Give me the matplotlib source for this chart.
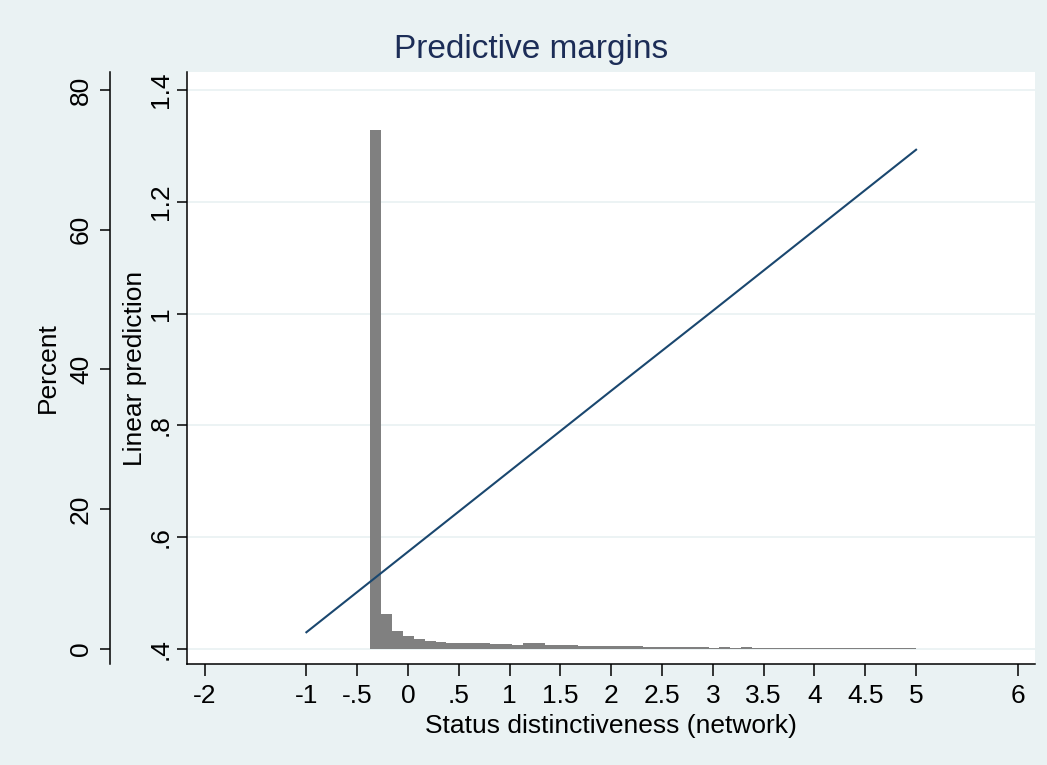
import numpy as np
import matplotlib.pyplot as plt
from matplotlib.lines import Line2D
from matplotlib.transforms import blended_transform_factory

plt.rcParams['font.family'] = ['Liberation Sans', 'DejaVu Sans']

# histogram of status distinctiveness (percent per bin)
bin_lo = -0.374
bin_hi = 5.0
pct = [74.3, 5.0, 2.6, 1.9, 1.43, 1.14, 0.96, 0.86, 0.86, 0.86,
       0.86, 0.72, 0.72, 0.62, 0.86, 0.86, 0.57, 0.57, 0.52, 0.43,
       0.43, 0.40, 0.40, 0.40, 0.36, 0.24, 0.24, 0.24, 0.24, 0.24,
       0.24, 0.12, 0.30, 0.12, 0.30, 0.14, 0.14, 0.14, 0.14, 0.14,
       0.14, 0.14, 0.14, 0.14, 0.14, 0.14, 0.14, 0.14, 0.14, 0.14]

# predictive margins (linear prediction)
mx = [-1, 0, 1, 2, 3, 4, 5]
my = [0.430, 0.574, 0.718, 0.862, 1.005, 1.149, 1.293]

xticks = [-2, -1, -0.5, 0, 0.5, 1, 1.5, 2, 2.5, 3, 3.5, 4, 4.5, 5, 6]
xlabels = ['-2', '-1', '-.5', '0', '.5', '1', '1.5', '2', '2.5', '3',
           '3.5', '4', '4.5', '5', '6']
pticks = [0, 20, 40, 60, 80]
lticks = [0.4, 0.6, 0.8, 1.0, 1.2, 1.4]
llabels = ['.4', '.6', '.8', '1', '1.2', '1.4']

bg = '#eaf2f3'
fig = plt.figure(figsize=(10.47, 7.65), dpi=100, facecolor=bg)
ax = fig.add_axes([0.1786, 0.132, 0.81, 0.774])
ax.set_facecolor('white')
ax2 = ax.twinx()
ax2.patch.set_visible(False)

# percent axis (outer)
edges = np.linspace(bin_lo, bin_hi, len(pct) + 1)
ax.stairs(pct, edges, fill=True, color='#808080', zorder=2)
ax.set_xlim(-2.175, 6.171)
ax.set_ylim(-2.147, 82.58)
ax.set_yticks(pticks)
ax.set_yticklabels([str(t) for t in pticks])
ax.set_ylabel('Percent', fontsize=19, labelpad=7)
ax.spines['left'].set_position(('outward', 55.4))
ax.spines['top'].set_visible(False)
ax.spines['right'].set_visible(False)
ax.set_xticks(xticks)
ax.set_xticklabels(xlabels)
ax.set_xlabel('Status distinctiveness (network)', fontsize=19, labelpad=4)
ax.tick_params(axis='x', labelsize=19, length=8.6, width=1.1, pad=6)
ax.tick_params(axis='y', labelsize=19, length=7.2, width=1.1, pad=5,
               labelrotation=90)
for t in ax.get_yticklabels():
    t.set_va('center')

# linear prediction axis (inner)
ax2.plot(mx, my, color='#1a476f', lw=1.5, zorder=3)
ax2.set_ylim(0.3732, 1.4322)
ax2.yaxis.tick_left()
ax2.yaxis.set_label_position('left')
ax2.set_yticks(lticks)
ax2.set_yticklabels(llabels)
ax2.set_ylabel('Linear prediction', fontsize=19, labelpad=1)
ax2.tick_params(axis='y', labelsize=19, length=7.2, width=1.1, pad=3,
                labelrotation=90)
for t in ax2.get_yticklabels():
    t.set_va('center')
for s in ['top', 'right', 'bottom']:
    ax2.spines[s].set_visible(False)

# grid lines at the prediction ticks, behind the bars
gtr = blended_transform_factory(ax.transAxes, ax2.transData)
for v in lticks:
    ax.add_line(Line2D([0, 1], [v, v], transform=gtr, color=bg, lw=1.3, zorder=1))

for a in (ax, ax2):
    for s in a.spines.values():
        s.set_linewidth(1.1)

fig.text(0.507, 0.935, 'Predictive margins', fontsize=24, color='#1c2d57',
         ha='center', va='center')

fig.savefig('out.png', dpi=100, facecolor=bg)
